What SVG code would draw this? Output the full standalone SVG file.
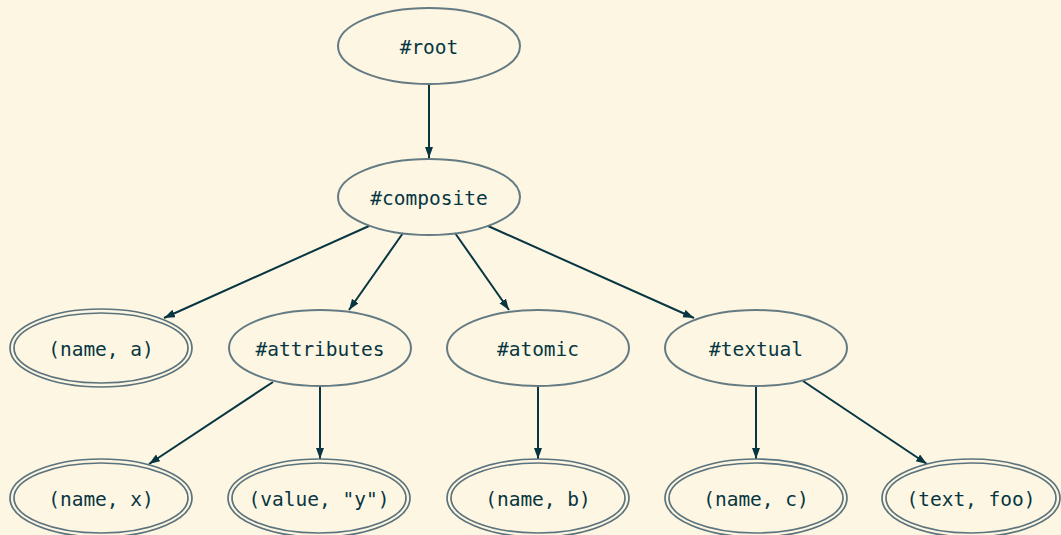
<svg xmlns="http://www.w3.org/2000/svg" width="1061" height="535" viewBox="0 0 1061 535">
<style>
.n{fill:none;stroke:#657b83;stroke-width:2}
.d{fill:none;stroke:#5b737d;stroke-width:1.7}
.e{fill:none;stroke:#073642;stroke-width:2;marker-end:url(#ah)}
text{font-family:"DejaVu Sans Mono","Liberation Mono",monospace;font-size:19.5px;fill:#073642;text-anchor:middle;dominant-baseline:central}
</style>
<defs>
<marker id="ah" markerUnits="userSpaceOnUse" markerWidth="12" markerHeight="10" refX="11" refY="4" orient="auto">
<path d="M0,0 L11,4 L0,8 z" fill="#073642"/>
</marker>
</defs>
<rect width="1061" height="535" fill="#fdf6e3"/>
<g id="connectors">
<line class="e" x1="429" y1="84" x2="429" y2="158"/>
<line class="e" x1="369" y1="226" x2="164" y2="318"/>
<line class="e" x1="403" y1="233" x2="349" y2="310"/>
<line class="e" x1="455" y1="233" x2="509" y2="310"/>
<line class="e" x1="488" y1="226" x2="694" y2="318"/>
<line class="e" x1="273" y1="382" x2="149" y2="464"/>
<line class="e" x1="320" y1="386" x2="320" y2="459"/>
<line class="e" x1="538" y1="386" x2="538" y2="459"/>
<line class="e" x1="756" y1="386" x2="756" y2="459"/>
<line class="e" x1="803" y1="381" x2="927" y2="464"/>
</g>
<g id="root"><ellipse class="n" cx="429" cy="46" rx="91" ry="38"/><text x="429" y="47">#root</text></g>
<g id="composite"><ellipse class="n" cx="429" cy="197" rx="91" ry="38"/><text x="429" y="198">#composite</text></g>
<g id="name_a"><ellipse class="d" cx="101" cy="348" rx="91" ry="39"/><ellipse class="d" cx="101" cy="348" rx="87" ry="35"/><text x="101" y="349">(name, a)</text></g>
<g id="attributes"><ellipse class="n" cx="320" cy="348" rx="91" ry="38"/><text x="320" y="349">#attributes</text></g>
<g id="atomic"><ellipse class="n" cx="538" cy="348" rx="91" ry="38"/><text x="538" y="349">#atomic</text></g>
<g id="textual"><ellipse class="n" cx="756" cy="348" rx="91" ry="38"/><text x="756" y="349">#textual</text></g>
<g id="name_x"><ellipse class="d" cx="101" cy="498" rx="91" ry="39"/><ellipse class="d" cx="101" cy="498" rx="87" ry="35"/><text x="101" y="499">(name, x)</text></g>
<g id="value_y"><ellipse class="d" cx="319" cy="498" rx="91" ry="39"/><ellipse class="d" cx="319" cy="498" rx="87" ry="35"/><text x="319" y="499">(value, "y")</text></g>
<g id="name_b"><ellipse class="d" cx="538" cy="498" rx="91" ry="39"/><ellipse class="d" cx="538" cy="498" rx="87" ry="35"/><text x="538" y="499">(name, b)</text></g>
<g id="name_c"><ellipse class="d" cx="756" cy="498" rx="91" ry="39"/><ellipse class="d" cx="756" cy="498" rx="87" ry="35"/><text x="756" y="499">(name, c)</text></g>
<g id="text_foo"><ellipse class="d" cx="971" cy="498" rx="89" ry="39"/><ellipse class="d" cx="971" cy="498" rx="85" ry="35"/><text x="971" y="499">(text, foo)</text></g>
</svg>
